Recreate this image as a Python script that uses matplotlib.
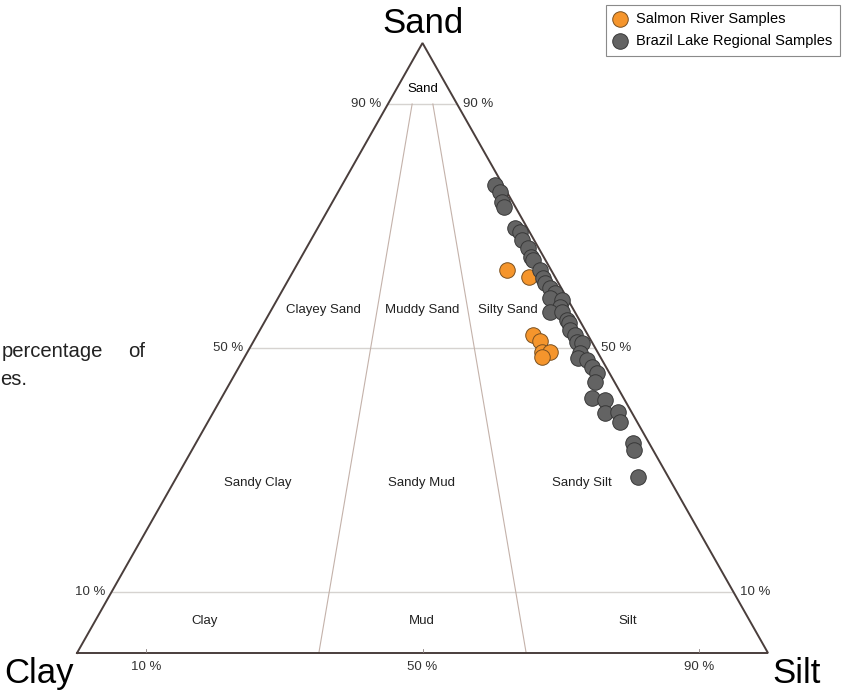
import numpy as np
import matplotlib
matplotlib.use("Agg")
import matplotlib.pyplot as plt

plt.rcParams['font.family'] = ['Liberation Sans', 'DejaVu Sans']

# grain size (percent sand, percent silt), clay is the remainder
salmon_sand = [62.8, 61.6, 52.1, 51.1, 49.3, 49.3, 48.5]
salmon_silt = [30.8, 34.6, 39.9, 41.4, 42.6, 43.8, 43.1]

brazil_sand = [76.7, 75.6, 73.9, 73.1, 69.7, 69.0, 67.7, 66.4, 64.9, 64.4,
               62.8, 61.5, 60.7, 59.8, 59.0, 58.2, 57.9, 56.7, 55.9, 55.9,
               54.6, 54.1, 53.0, 52.1, 51.0, 50.8, 49.2, 48.4, 48.0, 46.9,
               45.9, 44.4, 41.8, 41.5, 39.3, 39.5, 37.9, 34.4, 33.3, 28.9]
brazil_silt = [22.1, 23.4, 24.6, 25.3, 28.6, 29.6, 30.6, 32.1, 33.3, 33.8,
               35.6, 36.7, 37.4, 38.6, 39.7, 39.4, 41.3, 41.5, 40.5, 42.2,
               43.6, 44.1, 44.8, 46.0, 46.9, 47.7, 48.2, 48.3, 49.8, 51.1,
               52.3, 52.8, 53.6, 55.7, 56.7, 58.5, 59.7, 63.3, 63.9, 66.8]

salmon_clay = [100 - a - b for a, b in zip(salmon_sand, salmon_silt)]
brazil_clay = [100 - a - b for a, b in zip(brazil_sand, brazil_silt)]

# Folk classes: sand cut-offs and silt/(silt+clay) ratios
sand_limits = [10, 50, 90]
mud_ratios = [0.35, 0.65]
class_names = ["Clayey Sand", "Muddy Sand", "Silty Sand",
               "Sandy Clay", "Sandy Mud", "Sandy Silt",
               "Clay", "Mud", "Silt"]


def tern(sand, silt):
    sand = np.asarray(sand) / 100.0
    silt = np.asarray(silt) / 100.0
    return silt + sand / 2.0, sand


fig = plt.figure(figsize=(8.44, 6.93), dpi=100)
ax = fig.add_axes([77 / 844, 40 / 693, 691 / 844, 610 / 693])
ax.set_xlim(0, 1)
ax.set_ylim(0, 1)
ax.axis("off")

edge = "#4a3e3c"
# sand cut-off lines
for s in sand_limits:
    x0, y0 = tern(s, 0)
    x1, y1 = tern(s, 100 - s)
    ax.plot([x0, x1], [y0, y1], color="#d6d3d0", lw=1.0, zorder=1)
# clay:silt ratio lines
for r in mud_ratios:
    x0, y0 = tern(0, 100 * r)
    x1, y1 = tern(90, 10 * r)
    ax.plot([x0, x1], [y0, y1], color="#c4b2aa", lw=0.8, zorder=1)

ax.plot([0, 1, 0.5, 0], [0, 0, 1, 0], color=edge, lw=1.4, zorder=2,
        solid_joinstyle="miter", clip_on=False)
for t in [10, 50, 90]:
    ax.plot([t / 100, t / 100], [-0.004, 0.006], color="#8a8080", lw=0.6)

# corner labels
ax.text(0.5, 1.016, "Sand", ha="center", va="baseline", fontsize=25)
ax.text(-0.105, -0.049, "Clay", ha="left", va="baseline", fontsize=25)
ax.text(1.006, -0.049, "Silt", ha="left", va="baseline", fontsize=25)
ax.text(0.5, 0.925, "Sand", ha="center", va="center", fontsize=9.5)

# percent labels along the edges
for s in [90, 50, 10]:
    xl, yl = tern(s, 0)
    xr, yr = tern(s, 100 - s)
    ax.text(xl - 0.009, yl, "%d %%" % s, ha="right", va="center", fontsize=9.5, color="#333333")
    ax.text(xr + 0.009, yr, "%d %%" % s, ha="left", va="center", fontsize=9.5, color="#333333")
for t in [10, 50, 90]:
    ax.text(t / 100, -0.023, "%d %%" % t, ha="center", va="center", fontsize=9.5, color="#333333")

class_x = [0.357, 0.499, 0.624, 0.262, 0.499, 0.731, 0.185, 0.499, 0.797]
class_y = [0.563, 0.563, 0.563, 0.279, 0.279, 0.279, 0.052, 0.052, 0.052]
for name, cx, cy in zip(class_names, class_x, class_y):
    ax.text(cx, cy, name, ha="center", va="center", fontsize=9.5, color="#222222")

sx, sy = tern(salmon_sand, salmon_silt)
bx, by = tern(brazil_sand, brazil_silt)
ax.scatter(sx, sy, s=125, color="#f5952c", edgecolor="#7a5020", lw=0.7, zorder=3,
           label="Salmon River Samples", clip_on=False)
ax.scatter(bx, by, s=125, color="#636363", edgecolor="#383838", lw=0.7, zorder=4,
           label="Brazil Lake Regional Samples", clip_on=False)

leg = fig.legend(loc="upper right", bbox_to_anchor=(840 / 844, 1 - 5 / 693), fontsize=10.5,
                 frameon=True, fancybox=False, edgecolor="#8a8a8a", framealpha=1,
                 handlelength=1.0, handletextpad=0.6, borderpad=0.5, labelspacing=0.55,
                 borderaxespad=0)
leg.get_frame().set_linewidth(0.8)

# caption text running in from the left
fig.text(0.002, 1 - 357 / 693, "percentage", fontsize=14.6, va="baseline", color="#222222")
fig.text(128 / 844, 1 - 357 / 693, "of", fontsize=14.6, va="baseline", color="#222222")
fig.text(0.0, 1 - 385 / 693, "es.", fontsize=14.6, va="baseline", color="#222222")

fig.savefig("out.png", dpi=100)
